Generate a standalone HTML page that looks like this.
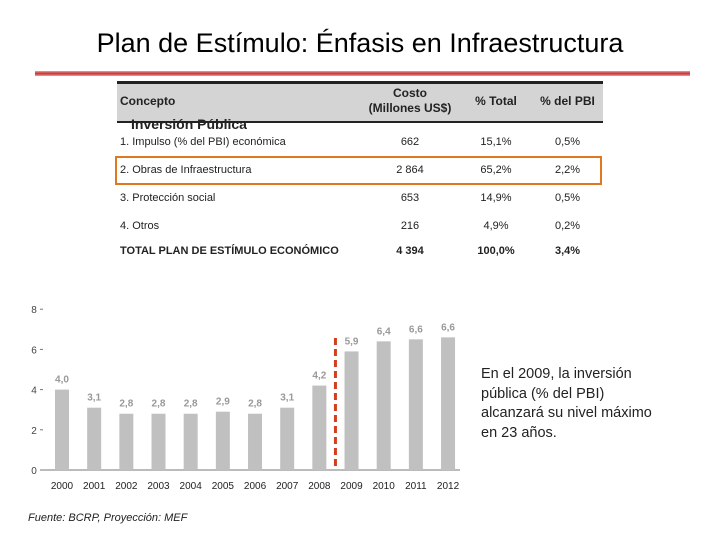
<!DOCTYPE html>
<html><head><meta charset="utf-8"><style>
body{margin:0;width:720px;height:540px;background:#fff;font-family:"Liberation Sans",sans-serif;position:relative;overflow:hidden}
.abs{position:absolute}
</style></head><body>
<div class="abs" style="left:0;width:720px;top:28px;text-align:center;font-size:27px;color:#000">Plan de Estímulo: Énfasis en Infraestructura</div>
<div class="abs" style="left:35px;top:71px;width:655px;height:5px;background:linear-gradient(to bottom,#e8a0a0,#c83030,#e8a0a0)"></div>
<div class="abs" style="left:117px;top:81px;width:486px;height:37px;background:#d4d4d4;border-top:3px solid #222;border-bottom:2px solid #222"></div>
<div class="abs" style="left:120px;top:94px;font-size:12px;font-weight:bold;color:#222">Concepto</div>
<div class="abs" style="left:360px;top:86px;width:100px;text-align:center;font-size:12px;font-weight:bold;color:#222;line-height:15px">Costo<br>(Millones US$)</div>
<div class="abs" style="left:466px;top:94px;width:60px;text-align:center;font-size:12px;font-weight:bold;color:#222">% Total</div>
<div class="abs" style="left:535px;top:94px;width:65px;text-align:center;font-size:12px;font-weight:bold;color:#222">% del PBI</div>
<div class="abs" style="left:131px;top:116px;font-size:14px;font-weight:bold;color:#222">Inversión Pública</div>
<div id="rows"></div>
<div class="abs" style="left:115px;top:156px;width:483px;height:25px;border:2px solid #e07820"></div>
<svg class="abs" style="left:0;top:0" width="720" height="540" id="chart"></svg>
<div class="abs" style="left:481px;top:365px;font-size:14.5px;line-height:19.5px;color:#222;width:172px">En el 2009, la inversión pública (% del PBI) alcanzará su nivel máximo en 23 años.</div>
<div class="abs" style="left:28px;top:512px;font-size:11px;font-style:italic;color:#222">Fuente: BCRP, Proyección: MEF</div>
<script>
const rowLabels=["1. Impulso (% del PBI) económica","2. Obras de Infraestructura","3. Protección social","4. Otros","TOTAL PLAN DE ESTÍMULO ECONÓMICO"];
const rowCost=["662","2 864","653","216","4 394"];
const rowTotal=["15,1%","65,2%","14,9%","4,9%","100,0%"];
const rowPbi=["0,5%","2,2%","0,5%","0,2%","3,4%"];
const rowY=[136,164,192,220,245];
const years=["2000","2001","2002","2003","2004","2005","2006","2007","2008","2009","2010","2011","2012"];
const values=[4.0,3.1,2.8,2.8,2.8,2.9,2.8,3.1,4.2,5.9,6.4,6.5,6.6];
const valueLabels=["4,0","3,1","2,8","2,8","2,8","2,9","2,8","3,1","4,2","5,9","6,4","6,6","6,6"];
const yTicks=[0,2,4,6,8];
const rows=document.getElementById('rows');
rowLabels.forEach((l,i)=>{
 const b=i==4?'font-weight:bold;':'';
 [[l,120,'left',240],[rowCost[i],360,'center',100],[rowTotal[i],466,'center',60],[rowPbi[i],535,'center',65]].forEach((c,j)=>{
  const d=document.createElement('div');d.className='abs';
  
  
  d.style.cssText=`left:${c[1]}px;top:${rowY[i]}px;width:${c[3]}px;text-align:${c[2]};font-size:11px;color:#222;${b}`;
  d.textContent=c[0];rows.appendChild(d);
 });
});
const svg=document.getElementById('chart');const NS='http://www.w3.org/2000/svg';
const y=v=>470-v*20.1, x=i=>62+i*32.17;
function el(t,a,txt){const e=document.createElementNS(NS,t);for(const k in a)e.setAttribute(k,a[k]);if(txt!=null)e.textContent=txt;svg.appendChild(e);return e;}
const ax=el('line',{x1:42,x2:460,y1:470,y2:470,stroke:'#777'});

yTicks.forEach(t=>{const e=el('text',{x:34,y:y(t)+4,'font-size':10,fill:'#444','text-anchor':'middle'},t);

el('line',{x1:40,x2:43,y1:y(t),y2:y(t),stroke:'#777'});});
values.forEach((v,i)=>{
 const r=el('rect',{x:x(i)-7,y:y(v),width:14,height:470-y(v),fill:'#c0c0c0'});
 
 const t=el('text',{x:x(i),y:y(v)-7,'font-size':10,fill:'#999','text-anchor':'middle','font-weight':'bold'},valueLabels[i]);
 
 const yl=el('text',{x:x(i),y:489,'font-size':10,fill:'#222','text-anchor':'middle'},years[i]);
 
});
const dl=el('line',{x1:(x(8)+x(9))/2,x2:(x(8)+x(9))/2,y1:338,y2:470,stroke:'#d04020','stroke-width':3,'stroke-dasharray':'7,4'});

</script>
</body></html>
